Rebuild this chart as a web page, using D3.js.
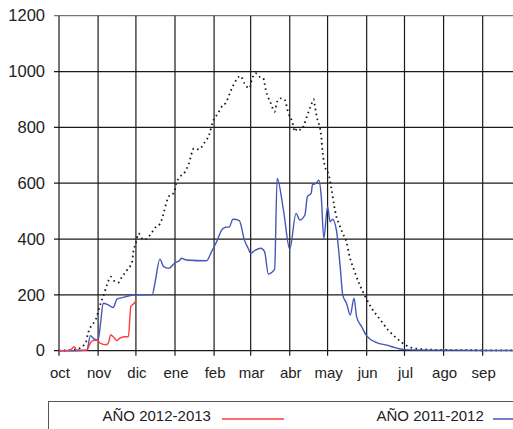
<!DOCTYPE html>
<html>
<head>
<meta http-equiv="Content-Type" content="text/html;charset=utf-8">
<script type="text/javascript" src="https://d3js.org/d3.v7.min.js"></script>
<style>
body { margin: 0; background: #fff; }
text { font-family: "Liberation Sans", Arial, sans-serif; fill: #222; }
</style>
</head>
<body>
<div id="chart"></div>
<script type="text/javascript">

// season axis: oct 2011 -> sep 2012
var months = ["oct","nov","dic","ene","feb","mar","abr","may","jun","jul","ago","sep"];
var yTicks = [0, 200, 400, 600, 800, 1000, 1200];

// AÑO 2011-2012 (blue)
var blueDates = ["10-01","10-14","10-23","10-26","10-29","11-01","11-03","11-05","11-09","11-13","11-16","11-21","11-25","12-02","12-14","12-16","12-20","12-23","12-27",
  "01-01","01-05","01-06","01-10","01-26","01-30","02-03","02-07","02-10","02-13","02-16","02-21","02-25","02-28","03-01","03-04","03-09","03-12","03-15","03-20","03-22","03-27",
  "04-01","04-06","04-09","04-13","04-15","04-18","04-19","04-22","04-24","04-26","04-28","05-01","05-03","05-05","05-08","05-11","05-13","05-16","05-19","05-22","05-24","05-28",
  "06-01","06-09","06-17","06-25","07-01","08-01","09-30"];
var blueValues = [0,0,2,54,41,38,100,170,164,155,185,191,196,200,201,240,328,301,295,
  315,325,331,325,322,355,390,432,442,443,471,466,397,367,349,358,367,355,275,292,617,504,
  364,492,468,486,552,564,594,600,611,552,403,516,462,471,432,301,200,170,128,188,122,86,
  53,29,20,9,4,2,1];

// dotted series
var dotDates = ["10-01","10-14","10-22","10-24","10-31","11-03","11-05","11-08","11-11","11-13","11-17","11-20","11-24","11-28","11-29","12-01","12-03","12-07","12-10","12-14","12-17","12-20","12-23","12-25","12-28","12-31",
  "01-02","01-05","01-09","01-12","01-16","01-20","01-24","01-28","01-31","02-04","02-08","02-10","02-14","02-17","02-22","02-25","02-29",
  "03-02","03-05","03-08","03-11","03-13","03-17","03-20","03-22","03-25","03-28","03-31","04-03","04-05","04-07","04-10","04-12","04-15","04-18","04-20","04-21","04-23","04-25","04-26","04-27","04-29",
  "05-02","05-04","05-06","05-08","05-10","05-13","05-16","05-18","05-22","05-26","05-31","06-05","06-12","06-18","06-25","07-02","07-08","07-20","08-15","09-30"];
var dotValues = [0,4,26,62,122,170,193,235,265,253,244,265,289,319,355,385,420,397,403,426,444,454,492,528,558,564,
  600,623,641,671,725,721,743,773,820,850,880,886,928,958,984,958,940,
  972,994,981,976,934,886,856,892,904,898,850,820,785,797,791,805,844,880,901,874,827,797,767,713,659,
  629,582,525,480,455,420,390,346,289,241,193,152,110,74,44,20,9,4,2,1];

// AÑO 2012-2013 (red)
var redDates = ["10-01","10-10","10-13","10-15","10-23","10-26","10-28","10-31","11-03","11-07","11-09","11-11","11-13","11-16","11-18","11-22","11-25","11-27","11-29","12-01"];
var redValues = [0,2,14,3,2,29,36,38,26,21,26,56,50,36,44,50,50,160,167,178];

function seasonDate(md) {
  var m = +md.slice(0, 2);
  return new Date(m >= 10 ? 2011 : 2012, m - 1, +md.slice(3, 5));
}
function toPoints(dates, values) {
  return dates.map(function (d, i) { return { date: seasonDate(d), value: values[i] }; });
}

var width = 513, height = 429;
var plotLeft = 59, plotTop = 15.7, plotBottom = 350.7;

var x = d3.scaleTime()
  .domain([new Date(2011, 9, 1), new Date(2012, 9, 1)])
  .range([plotLeft, 520.5]);
var y = d3.scaleLinear().domain([0, 1200]).range([plotBottom, plotTop]);

var svg = d3.select("#chart").append("svg")
  .attr("width", width)
  .attr("height", height);

var monthStarts = months.map(function (m, i) { return new Date(i < 3 ? 2011 : 2012, (9 + i) % 12, 1); });

// grid
svg.append("g").selectAll("line")
  .data(yTicks).enter().append("line")
  .attr("x1", plotLeft - 5).attr("x2", width)
  .attr("y1", function (d) { return y(d); })
  .attr("y2", function (d) { return y(d); })
  .attr("stroke", function (d) { return d == 1200 ? "#777" : "#1a1a1a"; })
  .attr("stroke-width", 1.2);

svg.append("g").selectAll("line")
  .data(monthStarts).enter().append("line")
  .attr("x1", function (d) { return x(d); })
  .attr("x2", function (d) { return x(d); })
  .attr("y1", plotTop).attr("y2", plotBottom + 5)
  .attr("stroke", "#1a1a1a")
  .attr("stroke-width", 1.2);

// axis labels
svg.append("g").selectAll("text")
  .data(yTicks).enter().append("text")
  .attr("x", 45)
  .attr("y", function (d) { return y(d); })
  .attr("dy", "0.35em")
  .attr("text-anchor", "end")
  .style("font-size", "16.5px")
  .text(function (d) { return d; });

svg.append("g").selectAll("text")
  .data(monthStarts).enter().append("text")
  .attr("x", function (d) { return x(d) + 1; })
  .attr("y", 378)
  .attr("text-anchor", "middle")
  .style("font-size", "15px")
  .text(function (d, i) { return months[i]; });

var line = d3.line()
  .x(function (d) { return x(d.date); })
  .y(function (d) { return y(d.value); })
  .curve(d3.curveMonotoneX);

svg.append("path")
  .datum(toPoints(dotDates, dotValues))
  .attr("d", line)
  .attr("fill", "none")
  .attr("stroke", "#1a1a1a")
  .attr("stroke-width", 1.8)
  .attr("stroke-dasharray", "1.6,3.4");

svg.append("path")
  .datum(toPoints(blueDates, blueValues))
  .attr("d", line)
  .attr("fill", "none")
  .attr("stroke", "#4558b8")
  .attr("stroke-width", 1.4);

svg.append("path")
  .datum(toPoints(redDates, redValues))
  .attr("d", line)
  .attr("fill", "none")
  .attr("stroke", "#ff3b3b")
  .attr("stroke-width", 1.4);

// legend
svg.append("rect")
  .attr("x", 48.5).attr("y", 401.5)
  .attr("width", 480).attr("height", 40)
  .attr("fill", "none")
  .attr("stroke", "#555")
  .attr("stroke-width", 1);

var legend = [
  { label: "AÑO 2012-2013", color: "#ff3b3b", tx: 102.5, lx1: 222, lx2: 284 },
  { label: "AÑO 2011-2012", color: "#4558b8", tx: 376.5, lx1: 493, lx2: 530 }
];
legend.forEach(function (l) {
  svg.append("text")
    .attr("x", l.tx).attr("y", 420.5)
    .style("font-size", "15px")
    .text(l.label);
  svg.append("line")
    .attr("x1", l.lx1).attr("x2", l.lx2)
    .attr("y1", 419).attr("y2", 419)
    .attr("stroke", l.color)
    .attr("stroke-width", 1.4);
});

</script>
</body>
</html>
